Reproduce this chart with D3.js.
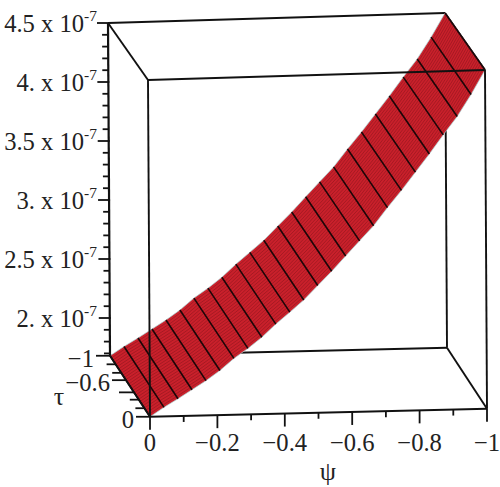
<!DOCTYPE html>
<html><head><meta charset="utf-8">
<script src="https://cdnjs.cloudflare.com/ajax/libs/d3/7.8.5/d3.min.js"></script>
<style>html,body{margin:0;padding:0;background:#fff}svg{display:block}text{font-family:"Liberation Serif",serif;fill:#222}</style>
</head><body><svg id="c" width="500" height="487"></svg>
<script>
const psiValues=[0,-0.0417,-0.0833,-0.125,-0.1667,-0.2083,-0.25,-0.2917,-0.3333,-0.375,-0.4167,-0.4583,-0.5,-0.5417,-0.5833,-0.625,-0.6667,-0.7083,-0.75,-0.7917,-0.8333,-0.875,-0.9167,-0.9583,-1];
const surfaceValues=[1.68,1.756,1.825,1.898,1.971,2.053,2.151,2.232,2.322,2.429,2.526,2.625,2.742,2.858,2.983,3.106,3.229,3.377,3.517,3.666,3.814,3.97,4.12,4.30,4.5];
const zTicks=[2,2.5,3,3.5,4,4.5];
const zLabels=["2.","2.5","3.","3.5","4.","4.5"];
const zMinor=[1.7,1.8,1.9,2.1,2.2,2.3,2.4,2.6,2.7,2.8,2.9,3.1,3.2,3.3,3.4,3.6,3.7,3.8,3.9,4.1,4.2,4.3,4.4];
const psiTicks=[0,-0.2,-0.4,-0.6,-0.8,-1];
const psiLabels=["0","−0.2","−0.4","−0.6","−0.8","−1"];
const psiMinor=[-0.1,-0.3,-0.5,-0.7,-0.9];
const tauLabelled=[-1,-0.6,0];
const tauLabels=["−1","−0.6","0"];
const tauLong=[-0.4];
const tauMinor=[-0.86,-0.72,-0.28,-0.14];
const zMin=1.68,zMax=4.5;

const svg=d3.select("#c");
const pS=d3.scaleLinear().domain([0,-1]).range([0,1]);
const fS=d3.scaleLinear().domain([-1,0]).range([0,1]);
const zS=d3.scaleLinear().domain([4,4.5]).range([82,23]);
const zF=d3.scaleLinear().domain([zMin,zMax]).range([0,1]);
function pr(psi,tau,z){
  const p=pS(psi),f=fS(tau),zf=zF(z);
  return [110+337*p+40*f-2*zf,
          zS(z)-(8+2*zf)*p+(61-4*zf)*f];
}
const line=d3.line();
function seg(g,a,b,w){g.append("path").attr("d",line([pr(...a),pr(...b)])).attr("fill","none").attr("stroke","#111").attr("stroke-width",w||1.9);}

const back=svg.append("g");
seg(back,[0,-1,zMax],[-1,-1,zMax]);
seg(back,[-1,-1,zMin],[-1,-1,zMax]);
seg(back,[0,-1,zMin],[-1,-1,zMin]);
seg(back,[0,-1,zMax],[0,0,zMax]);
seg(back,[-1,-1,zMax],[-1,0,zMax]);
seg(back,[-1,-1,zMin],[-1,0,zMin]);

const surf=svg.append("g");
const outline=psiValues.map((d,i)=>pr(d,-1,surfaceValues[i])).concat(psiValues.map((d,i)=>pr(d,0,surfaceValues[i])).reverse());
surf.append("path").attr("d",line(outline)+"Z").attr("fill","#c9202b").attr("stroke","#a8d4d4").attr("stroke-width",0.7);
const fine=d3.range(1,28).map(i=>-i/28);
fine.forEach(t=>surf.append("path").attr("d",line(psiValues.map((d,i)=>pr(d,t,surfaceValues[i])))).attr("fill","none").attr("stroke","#6e0f14").attr("stroke-width",0.7).attr("stroke-opacity",0.55));
psiValues.forEach((d,i)=>{
  surf.append("path").attr("d",line([pr(d,-1,surfaceValues[i]),pr(d,0,surfaceValues[i])])).attr("fill","none").attr("stroke","#1c0608").attr("stroke-width",1.6);
});

const front=svg.append("g");
seg(front,[0,0,zMin],[0,0,zMax]);
seg(front,[0,0,zMax],[-1,0,zMax]);
seg(front,[-1,0,zMin],[-1,0,zMax]);
seg(front,[0,0,zMin],[-1,0,zMin]);
seg(front,[0,-1,zMin],[0,0,zMin]);
seg(front,[0,-1,zMin],[0,-1,zMax],2.2);

function tick(x1,y1,x2,y2){front.append("line").attr("x1",x1).attr("y1",y1).attr("x2",x2).attr("y2",y2).attr("stroke","#111").attr("stroke-width",1.8);}
zTicks.forEach((z,i)=>{
  const [x,y]=pr(0,-1,z); tick(x+1,y,x-11,y);
  const t=svg.append("text").attr("x",97).attr("y",y+9).attr("text-anchor","end").attr("font-size",24.6);
  t.append("tspan").text(zLabels[i]+" x 10");
  t.append("tspan").attr("dy",-11).attr("font-size",15.5).text("-7");
});
zMinor.forEach(z=>{const [x,y]=pr(0,-1,z);tick(x,y,x-6,y);});
psiTicks.forEach((v,i)=>{
  const [x,y]=pr(v,0,zMin); tick(x,y,x,y+13);
  svg.append("text").attr("x",x).attr("y",451).attr("text-anchor","middle").attr("font-size",24.6).text(psiLabels[i]);
});
psiMinor.forEach(v=>{const [x,y]=pr(v,0,zMin);tick(x,y,x,y+6);});
tauLabelled.forEach((v,i)=>{
  const [x,y]=pr(0,v,zMin); tick(x,y,x-14,y);
  svg.append("text").attr("x",x-16).attr("y",y+11).attr("text-anchor","end").attr("font-size",24.6).text(tauLabels[i]);
});
tauLong.forEach(v=>{const [x,y]=pr(0,v,zMin);tick(x,y,x-15,y);});
tauMinor.forEach(v=>{const [x,y]=pr(0,v,zMin);tick(x,y,x-9,y);});
svg.append("text").attr("x",328).attr("y",480).attr("text-anchor","middle").attr("font-size",26).text("ψ");
svg.append("text").attr("x",59).attr("y",405).attr("text-anchor","middle").attr("font-size",26).text("τ");
</script></body></html>
